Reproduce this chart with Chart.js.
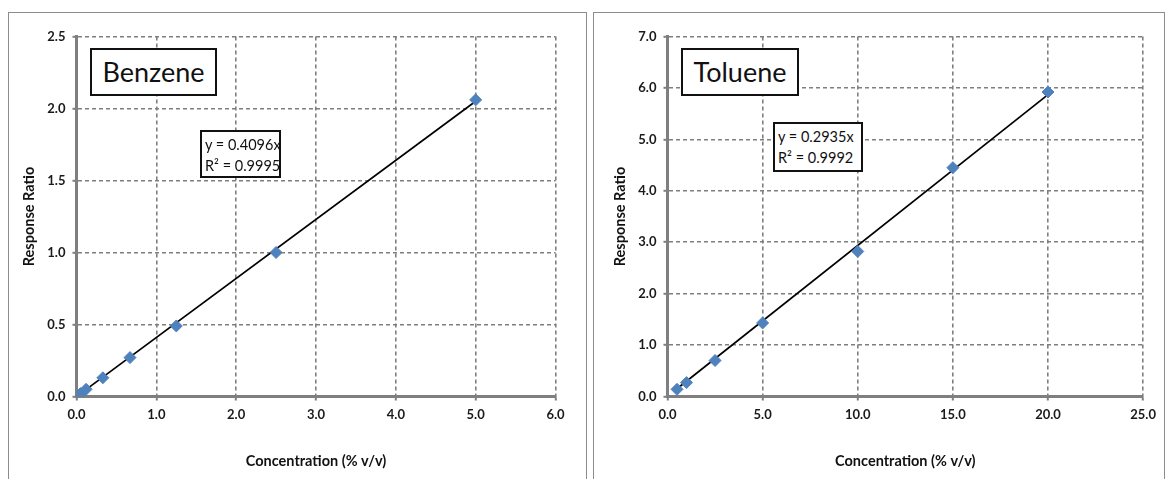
<!DOCTYPE html>
<html>
<head>
<meta charset="utf-8">
<script src="https://cdn.jsdelivr.net/npm/chart.js@4.4.1/dist/chart.umd.min.js"></script>
<style>
body{margin:0;background:#fff;width:1175px;height:479px;overflow:hidden;position:relative;font-family:Lato,sans-serif}
.panel{position:absolute;top:12px;height:500px;border:1.5px solid #8c8c8c;box-sizing:border-box}
.wrap{position:absolute;left:0;top:0;height:466px}
.box{position:absolute;background:#fff;border:2px solid #111;box-sizing:border-box;color:#111;white-space:nowrap}
.name{font-size:27px;text-align:center;line-height:44px}
.eq{font-size:14.5px;line-height:21px;padding:2px 0 0 3px}
</style>
</head>
<body>
<div class="panel" style="left:8px;width:579px"><div class="wrap" style="width:576px"><canvas id="benzene"></canvas></div></div>
<div class="panel" style="left:593px;width:572px"><div class="wrap" style="width:569px"><canvas id="toluene"></canvas></div></div>

<div class="box name" style="left:90px;top:48px;width:127px;height:48px">Benzene</div>
<div class="box eq" style="left:200px;top:130px;width:81px;height:48px">y = 0.4096x<br>R² = 0.9995</div>
<div class="box name" style="left:681px;top:48px;width:118px;height:48px">Toluene</div>
<div class="box eq" style="left:773px;top:122px;width:90px;height:50px">y = 0.2935x<br>R² = 0.9992</div>

<script>
// benzene calibration
const benzeneConc = [0.05, 0.12, 0.33, 0.67, 1.25, 2.5, 5.0];
const benzeneRatio = [0.02, 0.05, 0.13, 0.27, 0.49, 1.00, 2.06];
const benzeneFitX = [0.05, 5.0];
const benzeneFitY = [0.02, 2.05];
const benzeneXTicks = [0, 1, 2, 3, 4, 5, 6];
const benzeneYTicks = [0, 0.5, 1.0, 1.5, 2.0, 2.5];

// toluene calibration
const tolueneConc = [0.5, 1.0, 2.5, 5.0, 10.0, 15.0, 20.0];
const tolueneRatio = [0.14, 0.27, 0.70, 1.43, 2.82, 4.45, 5.92];
const tolueneFitX = [0.5, 20.0];
const tolueneFitY = [0.15, 5.87];
const tolueneXTicks = [0, 5, 10, 15, 20, 25];
const tolueneYTicks = [0, 1, 2, 3, 4, 5, 6, 7];

const gridColor = '#7f7f7f';

function axis(ticks, title, titlePad, fit) {
    return {
        type: 'linear',
        min: ticks[0],
        max: ticks[ticks.length - 1],
        afterBuildTicks: s => { s.ticks = ticks.map(v => ({value: v})); },
        afterFit: fit,
        grid: {color: gridColor, lineWidth: 1.6, tickLength: 4, tickColor: gridColor, tickWidth: 2},
        border: {display: true, color: gridColor, width: 3, dash: [4, 3]},
        ticks: {
            color: '#1a1a1a',
            padding: 7,
            font: {family: 'Lato', weight: 'bold', size: 13},
            callback: v => Number(v).toFixed(1)
        },
        title: {
            display: true,
            text: title,
            color: '#111',
            padding: titlePad,
            font: {family: 'Lato', weight: 'bold', size: 14.5}
        }
    };
}

function drawPanel(id, conc, ratio, fitX, fitY, xTicks, yTicks, lay) {
    new Chart(document.getElementById(id), {
        type: 'scatter',
        data: {
            datasets: [
                {
                    data: conc.map((x, i) => ({x: x, y: ratio[i]})),
                    pointStyle: 'rectRot',
                    pointRadius: 6,
                    backgroundColor: '#4F81BD',
                    borderColor: '#4F81BD',
                    borderWidth: 1
                },
                {
                    data: fitX.map((x, i) => ({x: x, y: fitY[i]})),
                    showLine: true,
                    pointRadius: 0,
                    borderColor: '#000',
                    borderWidth: 1.7
                }
            ]
        },
        options: {
            responsive: true,
            maintainAspectRatio: false,
            animation: false,
            devicePixelRatio: 1,
            layout: {padding: {left: 0, right: lay.right, top: 23.5, bottom: 0}},
            plugins: {legend: {display: false}, tooltip: {enabled: false}},
            scales: {
                x: axis(xTicks, 'Concentration (% v/v)', {top: 4, bottom: 9}, s => { s.height = 82.5; }),
                y: axis(yTicks, 'Response Ratio', {top: lay.titlePad, bottom: 4}, s => { s.width = lay.yw; })
            }
        }
    });
}

drawPanel('benzene', benzeneConc, benzeneRatio, benzeneFitX, benzeneFitY, benzeneXTicks, benzeneYTicks,
    {right: 29.5, yw: 67.5, titlePad: 12});
drawPanel('toluene', tolueneConc, tolueneRatio, tolueneFitX, tolueneFitY, tolueneXTicks, tolueneYTicks,
    {right: 14.5, yw: 73.5, titlePad: 18});
</script>
</body>
</html>
